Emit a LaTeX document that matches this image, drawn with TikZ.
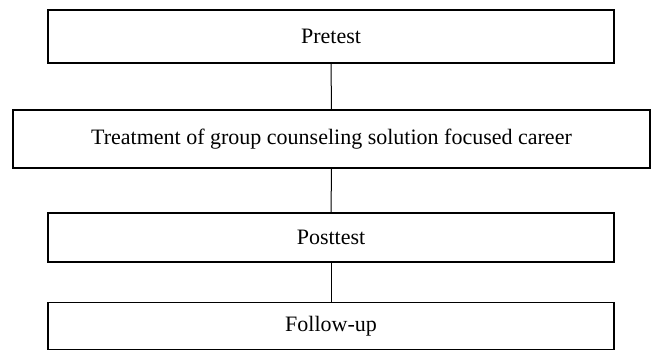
\documentclass[tikz,border=0pt]{standalone}
\usepackage{fontspec}
\setmainfont{Liberation Serif}
\begin{document}
\begin{tikzpicture}[x=1pt,y=-1pt,
  stagebox/.style={draw=black,line width=1.3pt,fill=white,inner sep=0pt,
    font=\fontsize{22}{26}\selectfont,anchor=center},
  link/.style={draw=black,line width=1pt}]
\useasboundingbox (0,0) rectangle (652,351);
\node[stagebox,minimum width=566pt,minimum height=53pt] (pre) at (331,36.5) {Pretest};
\node[stagebox,minimum width=637pt,minimum height=58pt] (treat) at (331.5,139) {Treatment of group counseling solution focused career};
\node[stagebox,minimum width=566pt,minimum height=49pt] (post) at (331,237.5) {Posttest};
\node[stagebox,minimum width=566pt,minimum height=47pt] (follow) at (331,326) {Follow-up};
\draw[link] (pre.south) -- (treat.north);
\draw[link] (treat.south) -- (post.north);
\draw[link] (post.south) -- (follow.north);
\end{tikzpicture}
\end{document}
